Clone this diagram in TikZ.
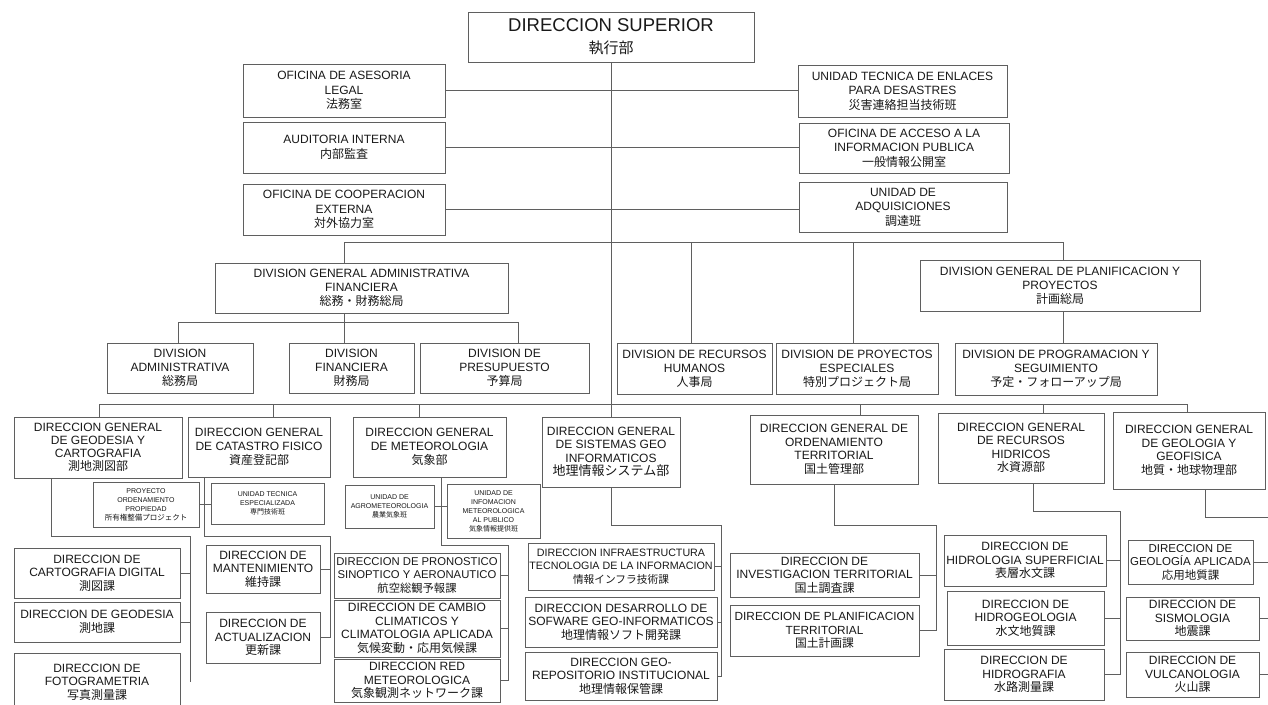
\documentclass[tikz,border=0pt]{standalone}
\usepackage{fontspec}
\setmainfont{Liberation Sans}
\newfontfamily\jpf{Noto Sans CJK JP}
\newcommand\jtx[1]{{\jpf #1}}
\newcommand\fsz[2]{\fontsize{#1}{#2}\selectfont}
\definecolor{lc}{RGB}{95,95,95}
\definecolor{txt}{RGB}{25,25,25}
\tikzset{
 ob/.style={draw=lc, line width=0.9pt, inner sep=0pt, align=center, text=txt, font=\fsz{12}{13.5}},
 ln/.style={draw=lc, line width=0.9pt},
 small/.style={font=\fsz{7}{9}},
 dgrow/.style={font=\fsz{12}{12.8}},
 toprow/.style={font=\fsz{12}{14.5}},
 divrow/.style={font=\fsz{12}{14}},
}
\newcommand\obox[7][]{%
  \pgfmathsetmacro\oW{#5-#3}%
  \pgfmathsetmacro\oH{#6-#4}%
  \pgfmathsetmacro\oX{(#3+#5)/2}%
  \pgfmathsetmacro\oY{(#4+#6)/2}%
  \node[ob, minimum width=\oW pt, minimum height=\oH pt, #1] (#2) at (\oX,\oY) {#7};}
\begin{document}
\begin{tikzpicture}[x={(1pt,0pt)}, y={(0pt,-1pt)}]
\useasboundingbox (0,0) rectangle (1268,704);
\fill[white] (0,0) rectangle (1268,704);
\clip (0,0) rectangle (1268,704);
% ---------- top
\obox[font=\fsz{18.5}{22}]{sup}{468}{12}{754}{62}{DIRECCION SUPERIOR\\{\fsz{15}{22}\jpf 執行部}}
\obox[toprow]{legal}{243}{64}{445}{117}{OFICINA DE ASESORIA\\LEGAL\\\jtx{法務室}}
\obox[toprow]{audit}{243}{122}{445}{173}{AUDITORIA INTERNA\\\jtx{内部監査}}
\obox[toprow]{coop}{243}{184}{445}{235}{OFICINA DE COOPERACION\\EXTERNA\\\jtx{対外協力室}}
\obox[toprow]{enlaces}{798}{65}{1007}{117}{UNIDAD TECNICA DE ENLACES\\PARA DESASTRES\\\jtx{災害連絡担当技術班}}
\obox[toprow]{acceso}{799}{123}{1009}{173}{OFICINA DE ACCESO A LA\\INFORMACION PUBLICA\\\jtx{一般情報公開室}}
\obox[toprow]{adq}{799}{182}{1007}{232}{UNIDAD DE\\ADQUISICIONES\\\jtx{調達班}}
% ---------- divisions
\obox[divrow]{dgadm}{215}{263}{508}{313}{DIVISION GENERAL ADMINISTRATIVA\\FINANCIERA\\\jtx{総務・財務総局}}
\obox[divrow]{dgplan}{920}{260}{1200}{311}{DIVISION GENERAL DE PLANIFICACION Y\\PROYECTOS\\\jtx{計画総局}}
\obox[divrow]{divadm}{107}{343}{253}{393}{DIVISION\\ADMINISTRATIVA\\\jtx{総務局}}
\obox[divrow]{divfin}{289}{343}{414}{393}{DIVISION\\FINANCIERA\\\jtx{財務局}}
\obox[divrow]{divpre}{420}{343}{589}{393}{DIVISION DE\\PRESUPUESTO\\\jtx{予算局}}
\obox[divrow]{divrh}{617}{343}{772}{394}{DIVISION DE RECURSOS\\HUMANOS\\\jtx{人事局}}
\obox[divrow]{divpe}{776}{343}{938}{394}{DIVISION DE PROYECTOS\\ESPECIALES\\\jtx{特別プロジェクト局}}
\obox[divrow]{divprog}{955}{343}{1157}{395}{DIVISION DE PROGRAMACION Y\\SEGUIMIENTO\\\jtx{予定・フォローアップ局}}
% ---------- direcciones generales
\obox[dgrow]{dggeo}{14}{417}{182}{478}{DIRECCION GENERAL\\DE GEODESIA Y\\CARTOGRAFIA\\\jtx{測地測図部}}
\obox[font=\fsz{12}{14}]{dgcat}{188}{417}{330}{477}{DIRECCION GENERAL\\DE CATASTRO FISICO\\\jtx{資産登記部}}
\obox[font=\fsz{12}{14}]{dgmet}{353}{417}{506}{477}{DIRECCION GENERAL\\DE METEOROLOGIA\\\jtx{気象部}}
\obox[font=\fsz{12}{13.5}]{dgsig}{542}{417}{680}{487}{DIRECCION GENERAL\\DE SISTEMAS GEO\\INFORMATICOS\\{\fsz{13}{13.5}\jpf 地理情報システム部}}
\obox[font=\fsz{12}{13.5}]{dgord}{750}{415}{918}{484}{DIRECCION GENERAL DE\\ORDENAMIENTO\\TERRITORIAL\\\jtx{国土管理部}}
\obox[font=\fsz{12}{13.5}]{dgrec}{938}{413}{1104}{483}{DIRECCION GENERAL\\DE RECURSOS\\HIDRICOS\\\jtx{水資源部}}
\obox[font=\fsz{12}{13.5}]{dggeol}{1113}{412}{1265}{489}{DIRECCION GENERAL\\DE GEOLOGIA Y\\GEOFISICA\\\jtx{地質・地球物理部}}
% ---------- small units
\obox[small]{proy}{93}{482}{199}{527}{PROYECTO\\ORDENAMIENTO\\PROPIEDAD\\{\fsz{7.5}{9}\jpf 所有権整備プロジェクト}}
\obox[small]{ute}{211}{483}{324}{524}{UNIDAD TECNICA\\ESPECIALIZADA\\\jtx{専門技術班}}
\obox[small]{agro}{345}{485}{434}{528}{UNIDAD DE\\AGROMETEOROLOGIA\\\jtx{農業気象班}}
\obox[small]{info}{447}{484}{540}{538}{UNIDAD DE\\INFOMACION\\METEOROLOGICA\\AL PUBLICO\\\jtx{気象情報提供班}}
% ---------- direcciones
\obox{cartdig}{14}{548}{180}{598}{DIRECCION DE\\CARTOGRAFIA DIGITAL\\\jtx{測図課}}
\obox{geodesia}{14}{602}{180}{642}{DIRECCION DE GEODESIA\\\jtx{測地課}}
\obox{foto}{14}{653}{180}{711}{DIRECCION DE\\FOTOGRAMETRIA\\\jtx{写真測量課}}
\obox{mant}{206}{545}{320}{593}{DIRECCION DE\\MANTENIMIENTO\\\jtx{維持課}}
\obox{actu}{206}{612}{320}{663}{DIRECCION DE\\ACTUALIZACION\\\jtx{更新課}}
\obox[font=\fsz{11.3}{13.5}]{pron}{334}{553}{500}{598}{DIRECCION DE PRONOSTICO\\SINOPTICO Y AERONAUTICO\\\jtx{航空総観予報課}}
\obox{camb}{334}{600}{500}{657}{DIRECCION DE CAMBIO\\CLIMATICOS Y\\CLIMATOLOGIA APLICADA\\\jtx{気候変動・応用気候課}}
\obox{red}{334}{659}{500}{702}{DIRECCION RED\\METEOROLOGICA\\\jtx{気象観測ネットワーク課}}
\obox[font=\fsz{10.7}{13.5}]{infra}{528}{543}{714}{590}{DIRECCION INFRAESTRUCTURA\\TECNOLOGIA DE LA INFORMACION\\\jtx{情報インフラ技術課}}
\obox{desa}{525}{597}{717}{647}{DIRECCION DESARROLLO DE\\SOFWARE GEO-INFORMATICOS\\\jtx{地理情報ソフト開発課}}
\obox{repo}{525}{652}{717}{700}{DIRECCION GEO-\\REPOSITORIO INSTITUCIONAL\\\jtx{地理情報保管課}}
\obox{inv}{730}{553}{919}{597}{DIRECCION DE\\INVESTIGACION TERRITORIAL\\\jtx{国土調査課}}
\obox[font=\fsz{11.8}{13.5}]{plan}{730}{605}{919}{656}{DIRECCION DE PLANIFICACION\\TERRITORIAL\\\jtx{国土計画課}}
\obox{hsup}{944}{535}{1106}{586}{DIRECCION DE\\HIDROLOGIA SUPERFICIAL\\\jtx{表層水文課}}
\obox{hgeo}{947}{591}{1104}{645}{DIRECCION DE\\HIDROGEOLOGIA\\\jtx{水文地質課}}
\obox{hgra}{944}{649}{1104}{700}{DIRECCION DE\\HIDROGRAFIA\\\jtx{水路測量課}}
\obox[font=\fsz{11.5}{13.5}]{gapl}{1128}{540}{1253}{584}{DIRECCION DE\\GEOLOGÍA APLICADA\\\jtx{応用地質課}}
\obox{sism}{1126}{597}{1259}{640}{DIRECCION DE\\SISMOLOGIA\\\jtx{地震課}}
\obox{vulc}{1126}{652}{1259}{697}{DIRECCION DE\\VULCANOLOGIA\\\jtx{火山課}}
% ---------- connectors: top
\draw[ln] (sup.south) -- (dgsig.north);
\draw[ln] (legal.east) -- (legal.east -| enlaces.west);
\draw[ln] (audit.east) -- (audit.east -| acceso.west);
\draw[ln] (coop.east) -- (coop.east -| adq.west);
\coordinate (bA) at (344,242);
\coordinate (bB) at (1063,242);
\coordinate (bRH) at (691,242);
\coordinate (bPE) at (853,242);
\draw[ln] (bA) -- (bB);
\draw[ln] (bA) -- (bA |- dgadm.north);
\draw[ln] (bRH) -- (bRH |- divrh.north);
\draw[ln] (bPE) -- (bPE |- divpe.north);
\draw[ln] (bB) -- (bB |- dgplan.north);
\coordinate (dA) at (178,322);
\coordinate (dB) at (344,322);
\coordinate (dC) at (518,322);
\draw[ln] (dB |- dgadm.south) -- (dB);
\draw[ln] (dA) -- (dC);
\draw[ln] (dA) -- (dA |- divadm.north);
\draw[ln] (dB) -- (dB |- divfin.north);
\draw[ln] (dC) -- (dC |- divpre.north);
\draw[ln] (bB |- dgplan.south) -- (bB |- divprog.north);
% ---------- bus to direcciones generales
\coordinate (eGeo) at (99,404);
\coordinate (eCat) at (273,404);
\coordinate (eMet) at (419,404);
\coordinate (eOrd) at (860,404);
\coordinate (eRec) at (1043,404);
\coordinate (eGeol) at (1187,404);
\draw[ln] (eGeo) -- (eGeol);
\draw[ln] (eGeo) -- (eGeo |- dggeo.north);
\draw[ln] (eCat) -- (eCat |- dgcat.north);
\draw[ln] (eMet) -- (eMet |- dgmet.north);
\draw[ln] (eOrd) -- (eOrd |- dgord.north);
\draw[ln] (eRec) -- (eRec |- dgrec.north);
\draw[ln] (eGeol) -- (eGeol |- dggeol.north);
% ---------- subtrees
\coordinate (g1) at (51,536);
\coordinate (g2) at (190,536);
\coordinate (g3) at (190,682);
\draw[ln] (g1 |- dggeo.south) -- (g1) -- (g2) -- (g3);
\draw[ln] (cartdig.east) -- (cartdig.east -| g2);
\draw[ln] (geodesia.east) -- (geodesia.east -| g2);
\coordinate (k1) at (204,536);
\coordinate (k2) at (330,536);
\draw[ln] (k1 |- dgcat.south) -- (k1) -- (k2) -- (k2 |- actu.east) -- (actu.east);
\draw[ln] (mant.east) -- (mant.east -| k2);
\draw[ln] (proy.east) -- (proy.east -| ute.west);
\coordinate (m1) at (441,545);
\coordinate (m2) at (508,545);
\draw[ln] (m1 |- dgmet.south) -- (m1) -- (m2) -- (m2 |- red.east) -- (red.east);
\draw[ln] (pron.east) -- (pron.east -| m2);
\draw[ln] (camb.east) -- (camb.east -| m2);
\draw[ln] (agro.east) -- (agro.east -| info.west);
\coordinate (s1) at (611,525);
\coordinate (s2) at (721,525);
\draw[ln] (dgsig.south) -- (s1) -- (s2) -- (s2 |- repo.east) -- (repo.east);
\draw[ln] (infra.east) -- (infra.east -| s2);
\draw[ln] (desa.east) -- (desa.east -| s2);
\coordinate (o1) at (834,525);
\coordinate (o2) at (936,525);
\draw[ln] (o1 |- dgord.south) -- (o1) -- (o2) -- (o2 |- plan.east) -- (plan.east);
\draw[ln] (inv.east) -- (inv.east -| o2);
\coordinate (r1) at (1033,511);
\coordinate (r2) at (1120,511);
\draw[ln] (r1 |- dgrec.south) -- (r1) -- (r2) -- (r2 |- hgra.east) -- (hgra.east);
\draw[ln] (hsup.east) -- (hsup.east -| r2);
\draw[ln] (hgeo.east) -- (hgeo.east -| r2);
\coordinate (q1) at (1205,517);
\coordinate (q2) at (1275,517);
\coordinate (q3) at (1275,700);
\draw[ln] (q1 |- dggeol.south) -- (q1) -- (q2) -- (q3);
\draw[ln] (gapl.east) -- (gapl.east -| q2);
\draw[ln] (sism.east) -- (sism.east -| q2);
\draw[ln] (vulc.east) -- (vulc.east -| q2);
\end{tikzpicture}
\end{document}
